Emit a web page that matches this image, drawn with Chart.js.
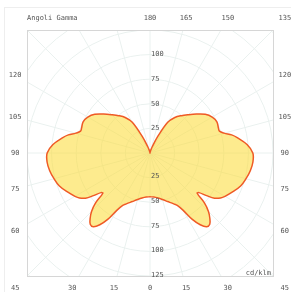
<!DOCTYPE html>
<html>
<head>
<meta charset="utf-8">
<script src="https://cdn.jsdelivr.net/npm/chart.js@4.4.0/dist/chart.umd.min.js"></script>
<style>
  html, body { margin: 0; padding: 0; background: #fff; overflow: hidden; }
  #frame { position: absolute; left: 4px; top: 7px; width: 320px; height: 320px; border: 1px solid #eee; }
  #polar { position: absolute; left: 0; top: 0; }
</style>
</head>
<body>
<div id="frame"></div>
<canvas id="polar" width="291" height="292"></canvas>
<script>
// gamma angles (deg, 0 = down) and luminous intensity (cd/klm), same curve on C0 and C180
var gammaAngles = [0, 5, 10, 15, 20, 25, 27.5, 30, 32.5, 35, 37.5, 40, 42.5, 45, 47.5,
    49.5, 51, 53, 55, 57.5, 60, 65, 70, 75, 80, 85, 90, 95, 100,
    102.5, 105, 107.5, 110, 115, 120, 125, 130, 135, 140, 145, 150, 155, 160, 165, 170, 175, 180];
var intensityC0 = [44.5, 45, 46.5, 49, 52.5, 57, 60, 67, 80, 89, 94.5, 94.5, 90, 84, 75,
    63, 64, 72, 80, 85, 88, 93, 98, 101, 103.5, 105, 104.5, 99, 90,
    85, 78, 74, 74, 75, 73, 68.5, 61.5, 55, 49.5, 44, 36, 18, 7, 3, 1, 0.5, 0];

// grid and labels
var radialTicks = [25, 50, 75, 100, 125];
var angleTicks = [0, 15, 30, 45, 60, 75, 90, 105, 120, 135, 150, 165, 180];
var titleLabel = 'Angoli Gamma';
var unitLabel = 'cd/klm';

var FONT = '7px "DejaVu Sans Mono", monospace';
var TEXT = '#555';
var GRID = '#eaf1ef';

// polar -> x/y data points: right half (C0) then left half (C180) back down
var curve = [];
for (var i = 0; i < gammaAngles.length; i++) {
    var g = gammaAngles[i] * Math.PI / 180;
    curve.push({ x: intensityC0[i] * Math.sin(g), y: -intensityC0[i] * Math.cos(g) });
}
for (var j = gammaAngles.length - 2; j >= 0; j--) {
    var g2 = gammaAngles[j] * Math.PI / 180;
    curve.push({ x: -intensityC0[j] * Math.sin(g2), y: -intensityC0[j] * Math.cos(g2) });
}

/**
 * polar grid under the curve
 */
var polarGrid = {
    id: 'polarGrid',
    beforeDatasetsDraw: function(chart) {
        var ctx = chart.ctx, a = chart.chartArea;
        var xs = chart.scales.x, ys = chart.scales.y;
        var cx = xs.getPixelForValue(0), cy = ys.getPixelForValue(0);
        var k = xs.getPixelForValue(1) - cx;
        ctx.save();
        ctx.beginPath();
        ctx.rect(a.left, a.top, a.right - a.left, a.bottom - a.top);
        ctx.clip();
        ctx.strokeStyle = GRID;
        ctx.lineWidth = 1;
        for (var r = 25; r <= 200; r += 25) {
            ctx.beginPath();
            ctx.arc(cx, cy, r * k, 0, Math.PI * 2);
            ctx.stroke();
        }
        for (var d = 0; d < 360; d += 15) {
            var t = d * Math.PI / 180;
            ctx.beginPath();
            ctx.moveTo(cx, cy);
            ctx.lineTo(cx + 250 * k * Math.sin(t), cy + 250 * k * Math.cos(t));
            ctx.stroke();
        }
        ctx.restore();
        // frame
        ctx.save();
        ctx.strokeStyle = '#d6d6d6';
        ctx.strokeRect(Math.round(a.left) + 0.5, Math.round(a.top) + 0.5,
            Math.round(a.right - a.left), Math.round(a.bottom - a.top));
        ctx.restore();
    }
};

/**
 * tick labels: radial values on the vertical axis, gamma angles round the frame
 */
var polarLabels = {
    id: 'polarLabels',
    afterDraw: function(chart) {
        var ctx = chart.ctx, a = chart.chartArea;
        var xs = chart.scales.x, ys = chart.scales.y;
        var cx = xs.getPixelForValue(0), cy = ys.getPixelForValue(0);
        ctx.save();
        ctx.font = FONT;
        ctx.fillStyle = TEXT;
        ctx.textBaseline = 'middle';

        // radial values
        ctx.textAlign = 'left';
        radialTicks.forEach(function(v) {
            if (v < 125) ctx.fillText(String(v), cx + 1, ys.getPixelForValue(v));
            ctx.fillText(String(v), cx + 1, ys.getPixelForValue(-v) - 1);
        });

        // gamma labels on a square round the chart
        ctx.textAlign = 'center';
        var H = 137;
        [1, -1].forEach(function(side) {
            angleTicks.forEach(function(deg) {
                if (side < 0 && (deg === 0 || deg >= 135)) return;
                var t = deg * Math.PI / 180;
                var dx = side * Math.sin(t), dy = -Math.cos(t);
                var s = H / Math.max(Math.abs(dx), Math.abs(dy));
                var px = xs.getPixelForValue(dx * s);
                var py = ys.getPixelForValue(dy * s);
                ctx.fillText(String(deg), px, py);
            });
        });

        // title and unit
        ctx.textAlign = 'left';
        ctx.fillText(titleLabel, a.left, ys.getPixelForValue(H));
        ctx.textAlign = 'right';
        ctx.fillText(unitLabel, a.right - 2, a.bottom - 3);
        ctx.restore();
    }
};

var polarCanvas = document.getElementById('polar').getContext('2d');
new Chart(polarCanvas, {
    type: 'scatter',
    data: {
        datasets: [{
            label: 'C0-C180',
            data: curve,
            showLine: true,
            fill: 'shape',
            backgroundColor: 'rgba(252, 220, 60, 0.58)',
            borderColor: '#ef5a26',
            borderWidth: 1.5,
            pointRadius: 0,
            tension: 0.35
        }]
    },
    options: {
        responsive: false,
        animation: false,
        layout: { padding: { left: 27, right: 18, top: 30, bottom: 16 } },
        plugins: { legend: { display: false }, tooltip: { enabled: false } },
        scales: {
            x: { type: 'linear', min: -125, max: 125, display: false },
            y: { type: 'linear', min: -125, max: 125, display: false }
        }
    },
    plugins: [polarGrid, polarLabels]
});
</script>
</body>
</html>
